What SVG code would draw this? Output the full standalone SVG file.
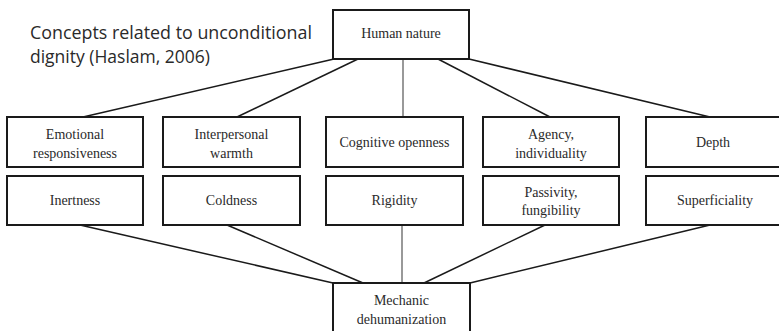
<svg xmlns="http://www.w3.org/2000/svg" width="779" height="331" viewBox="0 0 779 331">
  <style>
    .box { fill: #ffffff; stroke: #1a1a1a; stroke-width: 2; }
    .lbl { font-family: 'Liberation Serif', 'Tinos', 'DejaVu Serif', 'Times New Roman', Times, serif; font-size: 14px; fill: #2a2a2a; text-anchor: middle; }
    .title { font-family: 'Open Sans', 'Liberation Sans', sans-serif; font-size: 19px; fill: #2a2a2a; }
    .edge { stroke: #1a1a1a; stroke-width: 1.5; fill: none; }
    .vedge { stroke: #555555; stroke-width: 1.2; fill: none; }
  </style>
  <rect width="779" height="331" fill="#ffffff"/>

  <text class="title" x="30" y="39" textLength="282" lengthAdjust="spacingAndGlyphs">Concepts related to unconditional</text>
  <text class="title" x="30" y="63" textLength="180" lengthAdjust="spacingAndGlyphs">dignity (Haslam, 2006)</text>

  <g id="connectors">
    <line class="edge" x1="334" y1="59" x2="83" y2="117"/>
    <line class="edge" x1="358" y1="59" x2="237" y2="117"/>
    <line class="vedge" x1="403" y1="59" x2="403" y2="117"/>
    <line class="edge" x1="438" y1="59" x2="550" y2="117"/>
    <line class="edge" x1="469" y1="59" x2="710" y2="117"/>
    <line class="edge" x1="80" y1="225" x2="333" y2="283"/>
    <line class="edge" x1="227" y1="225" x2="363" y2="283"/>
    <line class="vedge" x1="402" y1="225" x2="402" y2="283"/>
    <line class="edge" x1="545" y1="225" x2="424" y2="283"/>
    <line class="edge" x1="710" y1="225" x2="470" y2="283"/>
  </g>

  <g id="human-nature">
    <rect class="box" x="333" y="10" width="136" height="49"/>
    <text class="lbl" x="401" y="38" font-size="13.5">Human nature</text>
  </g>

  <g id="emotional-responsiveness">
    <rect class="box" x="7" y="117" width="136" height="50"/>
    <text class="lbl" x="75" y="139">Emotional</text>
    <text class="lbl" x="75" y="158">responsiveness</text>
  </g>
  <g id="interpersonal-warmth">
    <rect class="box" x="163" y="117" width="137" height="50"/>
    <text class="lbl" x="231.5" y="139">Interpersonal</text>
    <text class="lbl" x="231.5" y="158">warmth</text>
  </g>
  <g id="cognitive-openness">
    <rect class="box" x="326" y="117" width="137" height="50"/>
    <text class="lbl" x="394.5" y="147">Cognitive openness</text>
  </g>
  <g id="agency-individuality">
    <rect class="box" x="483" y="117" width="136" height="50"/>
    <text class="lbl" x="551" y="139">Agency,</text>
    <text class="lbl" x="551" y="158">individuality</text>
  </g>
  <g id="depth">
    <rect class="box" x="646" y="117" width="136" height="50"/>
    <text class="lbl" x="713" y="147">Depth</text>
  </g>

  <g id="inertness">
    <rect class="box" x="7" y="176" width="136" height="49"/>
    <text class="lbl" x="75" y="205">Inertness</text>
  </g>
  <g id="coldness">
    <rect class="box" x="163" y="176" width="137" height="49"/>
    <text class="lbl" x="231.5" y="205">Coldness</text>
  </g>
  <g id="rigidity">
    <rect class="box" x="326" y="176" width="137" height="49"/>
    <text class="lbl" x="394.5" y="205">Rigidity</text>
  </g>
  <g id="passivity-fungibility">
    <rect class="box" x="483" y="176" width="136" height="49"/>
    <text class="lbl" x="551" y="197">Passivity,</text>
    <text class="lbl" x="551" y="215">fungibility</text>
  </g>
  <g id="superficiality">
    <rect class="box" x="646" y="176" width="136" height="49"/>
    <text class="lbl" x="715" y="205">Superficiality</text>
  </g>

  <g id="mechanic-dehumanization">
    <rect class="box" x="333" y="283" width="137" height="60"/>
    <text class="lbl" x="401.5" y="305">Mechanic</text>
    <text class="lbl" x="401.5" y="324">dehumanization</text>
  </g>
</svg>
